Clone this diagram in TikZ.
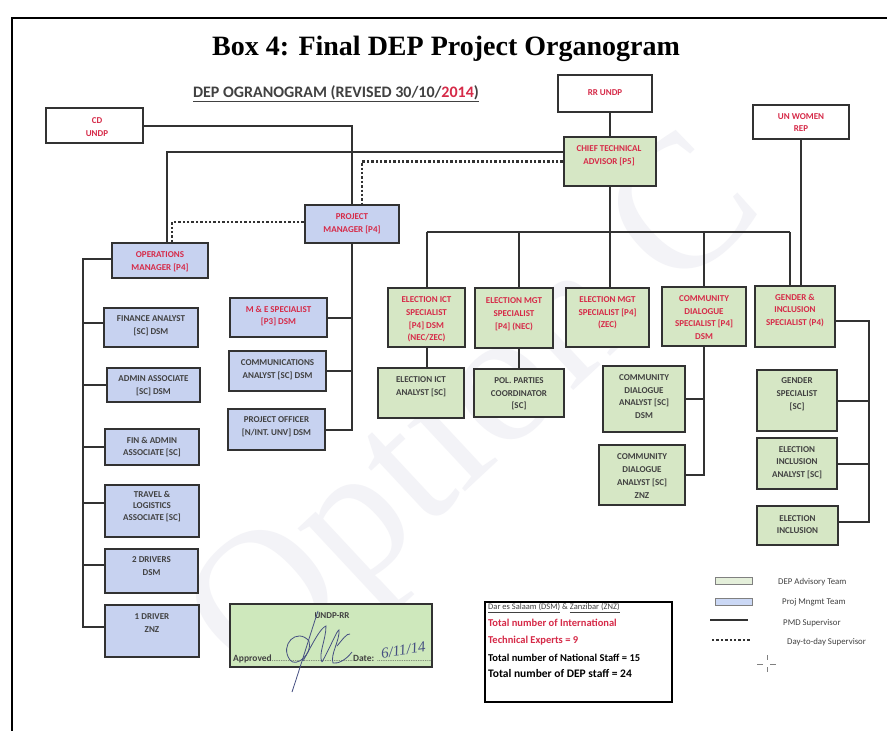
\documentclass[tikz,border=0pt]{standalone}
\usepackage{fontspec}
\setmainfont{Carlito}
\newfontfamily\titlefont{Liberation Serif}
\usetikzlibrary{calc}
\definecolor{redtxt}{RGB}{214,42,72}
\definecolor{dktxt}{RGB}{65,65,65}
\definecolor{edge}{RGB}{50,50,50}
\definecolor{gfill}{RGB}{214,231,197}
\definecolor{bfill}{RGB}{199,210,240}
\definecolor{wm}{RGB}{243,243,247}
\definecolor{ink}{RGB}{70,80,130}
\definecolor{lgfill}{RGB}{228,239,218}
\definecolor{lbfill}{RGB}{203,216,245}
\definecolor{apfill}{RGB}{206,232,188}
\newcommand{\orgnode}[6]{\node[#1, minimum width={(#5)-(#3)}, minimum height={(#6)-(#4)}] (#2) at ({((#3)+(#5))/2},{((#4)+(#6))/2}) {};}
\tikzset{
  orgbox/.style={draw=edge, line width=2.4pt, inner sep=0pt},
  gbox/.style={orgbox, fill=gfill},
  bbox/.style={orgbox, fill=bfill},
  wbox/.style={orgbox, fill=white},
  lbl/.style={align=center, inner sep=0pt, font=\fontsize{9}{12.7}\selectfont\bfseries},
  rlbl/.style={lbl, text=redtxt},
  klbl/.style={lbl, text=dktxt},
  link/.style={draw=edge, line width=2pt},
  dotlink/.style={draw=edge, line width=2.6pt, dash pattern=on 2.4pt off 2pt},
  legtxt/.style={anchor=base west, inner sep=0pt, font=\fontsize{8.8}{10}\selectfont, text=dktxt},
  stattxt/.style={anchor=base west, inner sep=0pt},
}
\begin{document}
\begin{tikzpicture}[x=1pt,y=-1pt]
\useasboundingbox (0,0) rectangle (887,731);
\fill[white] (0,0) rectangle (887,731);
% watermark
\node[rotate=43, text=wm, inner sep=0pt, font=\titlefont\fontsize{190}{190}\selectfont] (wmark) at (482,418) {Option C};
% frame
\coordinate (fr1) at (12,731); \coordinate (fr2) at (12,18); \coordinate (fr3) at (887,18);
\draw[line width=2pt, black] (fr1) -- (fr2) -- (fr3);
% titles
\node[anchor=base, inner sep=0pt, font=\titlefont\bfseries\fontsize{28}{30}\selectfont] (title) at (446,55) {Box 4: Final DEP Project Organogram};
\node[anchor=base, inner sep=0pt, text=dktxt, font=\bfseries\fontsize{16}{18}\selectfont] (sub) at (336,97) {\underline{DEP OGRANOGRAM (REVISED 30/10/\textcolor{redtxt}{2014})}};

% boxes (geometry, for connectors)
\orgnode{wbox}{cd}{46}{108}{143}{143}
\orgnode{wbox}{rr}{558}{75}{652}{112}
\orgnode{wbox}{unw}{753}{105}{849}{139}
\orgnode{gbox}{cta}{564}{137}{656}{186}
\orgnode{bbox}{pm}{305}{205}{399}{243}
\orgnode{bbox}{ops}{112}{243}{208}{278}
\orgnode{bbox}{fin}{104}{308}{198}{347}
\orgnode{bbox}{adm}{107}{368}{200}{402}
\orgnode{bbox}{fad}{105}{429}{199}{465}
\orgnode{bbox}{trv}{105}{485}{199}{537}
\orgnode{bbox}{drvb}{105}{549}{198}{593}
\orgnode{bbox}{drva}{105}{605}{199}{657}
\orgnode{bbox}{me}{230}{298}{327}{337}
\orgnode{bbox}{com}{229}{351}{326}{391}
\orgnode{bbox}{po}{228}{409}{325}{450}
\orgnode{gbox}{ict}{388}{288}{465}{347}
\orgnode{gbox}{nec}{475}{288}{553}{348}
\orgnode{gbox}{zec}{566}{288}{649}{347}
\orgnode{gbox}{cds}{662}{287}{746}{346}
\orgnode{gbox}{gen}{755}{286}{835}{347}
\orgnode{gbox}{icta}{378}{368}{464}{418}
\orgnode{gbox}{pol}{474}{369}{564}{417}
\orgnode{gbox}{cdaa}{603}{366}{685}{432}
\orgnode{gbox}{cdab}{599}{445}{685}{505}
\orgnode{gbox}{gsp}{757}{370}{837}{431}
\orgnode{gbox}{eia}{757}{438}{837}{489}
\orgnode{gbox}{ei}{757}{506}{838}{545}

% connector helper coordinates
\coordinate (bar) at (0,232);
\coordinate (lv) at (83,0);
\coordinate (gv) at (869,0);
\coordinate (ctaS) at ([yshift=9.5pt]cta.west);
\coordinate (opsA) at ([xshift=7pt]ops.north);
\coordinate (opsB) at ([xshift=12pt]ops.north);
\coordinate (pmD) at ([xshift=10pt]pm.north);
\coordinate (pmW) at ([yshift=2pt]pm.west);
\coordinate (genW) at ([xshift=-5pt]gen.north);
\coordinate (genR) at ([yshift=-4.5pt]gen.east);
\coordinate (eiR) at ([yshift=4pt]ei.east);
\coordinate (opsL) at ([yshift=2pt]ops.west);
\coordinate (finL) at ([yshift=5pt]fin.west);
\coordinate (trvL) at ([yshift=8pt]trv.west);
\coordinate (drvbL) at ([yshift=6pt]drvb.west);
\coordinate (drvaL) at ([yshift=4pt]drva.west);
% connectors
\draw[link] (cd.east) -| (pm.north);
\draw[link] (ctaS) -| (opsA);
\draw[dotlink] (cta.west) -| (pmD);
\draw[dotlink] (pmW) -| (opsB);
\draw[link] (rr.south -| cta.north) -- (cta.north);
\draw[link] (cta.south) -- (cta.south |- zec.north);
\draw[link] (ict.north |- bar) -- (genW |- bar);
\draw[link] (ict.north |- bar) -- (ict.north);
\draw[link] (pol.north |- bar) -- (pol.north |- nec.north);
\draw[link] (cds.north |- bar) -- (cds.north);
\draw[link] (genW |- bar) -- (genW);
\draw[link] (unw.south) -- (unw.south |- gen.north);
\draw[link] (ict.south) -- (ict.south |- icta.north);
\draw[link] (pol.north |- nec.south) -- (pol.north);
\draw[link] (cds.south) |- (cdab.east);
\draw[link] (cdaa.east) -- (cdaa.east -| cds.south);
\draw[link] (genR) -| (gv |- eiR) -- (eiR);
\draw[link] (gsp.east) -- (gsp.east -| gv);
\draw[link] (eia.east) -- (eia.east -| gv);
\draw[link] (pm.south) -- (pm.south |- po.east) -- (po.east);
\draw[link] (me.east) -- (me.east -| pm.south);
\draw[link] (com.east) -- (com.east -| pm.south);
\draw[link] (opsL) -| (lv |- drvaL) -- (drvaL);
\draw[link] (finL) -- (finL -| lv);
\draw[link] (adm.west) -- (adm.west -| lv);
\draw[link] (fad.west) -- (fad.west -| lv);
\draw[link] (trvL) -- (trvL -| lv);
\draw[link] (drvbL) -- (drvbL -| lv);

% redraw boxes on top of connectors
\orgnode{wbox}{cd2}{46}{108}{143}{143}
\orgnode{wbox}{rr2}{558}{75}{652}{112}
\orgnode{wbox}{unw2}{753}{105}{849}{139}
\orgnode{gbox}{cta2}{564}{137}{656}{186}
\orgnode{bbox}{pm2}{305}{205}{399}{243}
\orgnode{bbox}{ops2}{112}{243}{208}{278}
\orgnode{bbox}{fin2}{104}{308}{198}{347}
\orgnode{bbox}{adm2}{107}{368}{200}{402}
\orgnode{bbox}{fad2}{105}{429}{199}{465}
\orgnode{bbox}{trv2}{105}{485}{199}{537}
\orgnode{bbox}{drvb2}{105}{549}{198}{593}
\orgnode{bbox}{drva2}{105}{605}{199}{657}
\orgnode{bbox}{me2}{230}{298}{327}{337}
\orgnode{bbox}{com2}{229}{351}{326}{391}
\orgnode{bbox}{po2}{228}{409}{325}{450}
\orgnode{gbox}{ict2}{388}{288}{465}{347}
\orgnode{gbox}{nec2}{475}{288}{553}{348}
\orgnode{gbox}{zec2}{566}{288}{649}{347}
\orgnode{gbox}{cds2}{662}{287}{746}{346}
\orgnode{gbox}{gen2}{755}{286}{835}{347}
\orgnode{gbox}{icta2}{378}{368}{464}{418}
\orgnode{gbox}{pol2}{474}{369}{564}{417}
\orgnode{gbox}{cdaa2}{603}{366}{685}{432}
\orgnode{gbox}{cdab2}{599}{445}{685}{505}
\orgnode{gbox}{gsp2}{757}{370}{837}{431}
\orgnode{gbox}{eia2}{757}{438}{837}{489}
\orgnode{gbox}{ei2}{757}{506}{838}{545}

% box texts
\node[rlbl] (cd-t) at (97,127) {CD\\UNDP};
\node[rlbl] (rr-t) at (605,93) {RR UNDP};
\node[rlbl] (unw-t) at (801,122.5) {UN WOMEN\\REP};
\node[rlbl] (cta-t) at (609,155.5) {CHIEF TECHNICAL\\{ADVISOR [P5]}};
\node[rlbl] (pm-t) at (352,223.5) {PROJECT\\{MANAGER [P4]}};
\node[rlbl] (ops-t) at (160,262) {OPERATIONS\\{MANAGER [P4]}};
\node[klbl] (fin-t) at (151,325.5) {FINANCE ANALYST\\{[SC] DSM}};
\node[klbl] (adm-t) at (153.5,385.5) {ADMIN ASSOCIATE\\{[SC] DSM}};
\node[klbl] (fad-t) at (152,447) {FIN \& ADMIN\\{ASSOCIATE [SC]}};
\node[klbl, font=\fontsize{9}{11.7}\selectfont\bfseries] (trv-t) at (152,506.5) {TRAVEL \&\\LOGISTICS\\{ASSOCIATE [SC]}};
\node[klbl] (drvb-t) at (151.5,566) {2 DRIVERS\\DSM};
\node[klbl] (drva-t) at (152,623) {1 DRIVER\\ZNZ};
\node[rlbl] (me-t) at (278.5,316) {M \& E SPECIALIST\\{[P3] DSM}};
\node[klbl] (com-t) at (277.5,369.5) {COMMUNICATIONS\\{ANALYST [SC] DSM}};
\node[klbl] (po-t) at (276.5,426.5) {PROJECT OFFICER\\{[N/INT. UNV] DSM}};
\begin{scope}
\clip (388,288) rectangle (465,342.5);
\node[rlbl] (ict-t) at (426.5,319.5) {ELECTION ICT\\SPECIALIST\\{[P4] DSM}\\{(NEC/ZEC)}};
\end{scope}
\node[rlbl] (nec-t) at (514,314.3) {ELECTION MGT\\SPECIALIST\\{[P4] (NEC)}};
\node[rlbl] (zec-t) at (607.5,313) {ELECTION MGT\\{SPECIALIST [P4]}\\{(ZEC)}};
\node[rlbl] (cds-t) at (704,317.5) {COMMUNITY\\DIALOGUE\\{SPECIALIST [P4]}\\DSM};
\node[rlbl] (gen-t) at (795,310.3) {GENDER \&\\INCLUSION\\{SPECIALIST (P4)}};
\node[klbl] (icta-t) at (421,386.5) {ELECTION ICT\\{ANALYST [SC]}};
\node[klbl] (pol-t) at (519,394) {POL. PARTIES\\COORDINATOR\\{[SC]}};
\node[klbl] (cdaa-t) at (644,396.5) {COMMUNITY\\DIALOGUE\\{ANALYST [SC]}\\DSM};
\node[klbl] (cdab-t) at (642,476) {COMMUNITY\\DIALOGUE\\{ANALYST [SC]}\\ZNZ};
\node[klbl] (gsp-t) at (797,394.3) {GENDER\\SPECIALIST\\{[SC]}};
\node[klbl] (eia-t) at (797,462.7) {ELECTION\\INCLUSION\\{ANALYST [SC]}};
\node[klbl] (ei-t) at (797.5,524.5) {ELECTION\\INCLUSION};

% approval box
\node[draw=edge, line width=1.6pt, fill=apfill, inner sep=0pt, minimum width=202, minimum height=63] (appr) at (331,635.5) {};
\node[klbl] (appr-t) at (332,616) {UNDP-RR};
\node[anchor=base west, inner sep=0pt, text=dktxt, font=\fontsize{9.5}{11}\selectfont\bfseries] (appr-l) at (233,661) {Approved{\fontsize{7}{7}\selectfont\mdseries ..............................................}Date: {\fontsize{7}{7}\selectfont\mdseries ................................}};
\node[anchor=base, inner sep=0pt, text=ink, font=\titlefont\itshape\fontsize{15}{15}\selectfont, rotate=8] (appr-d) at (404,655) {6/11/14};
\coordinate (sg1) at (292,692); \coordinate (sg2) at (318,611);
\draw[ink, line width=0.8pt] (sg1) .. controls (300,668) and (311,632) .. (sg2);
\coordinate (sl1) at (290,660); \coordinate (sl2) at (309,641);
\draw[ink, line width=0.8pt] (sl1) .. controls (279,645) and (297,627) .. (sl2) .. controls (313,654) and (296,668) .. (sl1);
\coordinate (sa1) at (303,661); \coordinate (sa2) at (326,626); \coordinate (sa3) at (322,662);
\draw[ink, line width=0.8pt] (sa1) .. controls (312,645) and (320,628) .. (sa2) .. controls (326,640) and (318,654) .. (sa3);
\coordinate (sb1) at (322,662); \coordinate (sb2) at (339,630); \coordinate (sb3) at (333,663); \coordinate (sb4) at (352,652);
\draw[ink, line width=0.8pt] (sb1) .. controls (330,648) and (337,630) .. (sb2) .. controls (340,640) and (330,655) .. (sb3) .. controls (338,664) and (346,660) .. (sb4);
\coordinate (sc1) at (337,646); \coordinate (sc2) at (350,634);
\draw[ink, line width=0.8pt] (sc1) .. controls (342,640) and (347,633) .. (sc2);

% stats box
\node[draw=black, line width=2.4pt, fill=white, inner sep=0pt, minimum width=187, minimum height=100] (stats) at (578.5,652) {};
\node[stattxt, text=dktxt, font=\fontsize{8.5}{10}\selectfont] (st1) at (488,609.5) {\underline{Dar es Salaam (DSM)} \& \underline{Zanzibar (ZNZ)}};
\node[stattxt, text=redtxt, font=\fontsize{10.5}{12}\selectfont\bfseries] (st2) at (488,626) {Total number of International};
\node[stattxt, text=redtxt, font=\fontsize{10.5}{12}\selectfont\bfseries] (st3) at (488,643.5) {Technical Experts = 9};
\node[stattxt, text=black, font=\fontsize{10.5}{12}\selectfont\bfseries] (st4) at (488,661) {Total number of National Staff = 15};
\node[stattxt, text=black, font=\fontsize{11.5}{13}\selectfont\bfseries] (st5) at (488,677.5) {Total number of DEP staff = 24};

% legend
\node[draw=gray, line width=.8pt, fill=lgfill, inner sep=0pt, minimum width=37, minimum height=7] (lg1) at (733.5,581) {};
\node[legtxt] (lt1) at (778,584) {DEP Advisory Team};
\node[draw=gray, line width=.8pt, fill=lbfill, inner sep=0pt, minimum width=37, minimum height=7] (lg2) at (733.5,601.5) {};
\node[legtxt] (lt2) at (782,604.5) {Proj Mngmt Team};
\coordinate (ls1) at (710,620); \coordinate (ls2) at (748,620);
\draw[link] (ls1) -- (ls2);
\node[legtxt] (lt3) at (783,625) {PMD Supervisor};
\coordinate (ld1) at (712,640); \coordinate (ld2) at (751,640);
\draw[dotlink, line width=2pt] (ld1) -- (ld2);
\node[legtxt] (lt4) at (787,644) {Day-to-day Supervisor};
% cursor mark
\coordinate (cu) at (767,664);
\draw[gray, line width=0.8pt] ([yshift=9pt]cu) -- ([yshift=4pt]cu) ([yshift=-3pt]cu) -- ([yshift=-8pt]cu)
  ([xshift=-10pt]cu) -- ([xshift=-4pt]cu) ([xshift=3pt]cu) -- ([xshift=9pt]cu);
\end{tikzpicture}
\end{document}
